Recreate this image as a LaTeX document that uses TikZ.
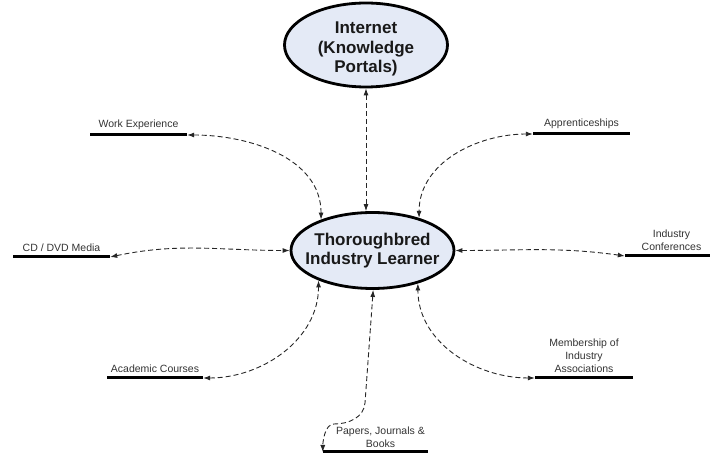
\documentclass[tikz,border=0pt]{standalone}
\usepackage{fontspec}
\setmainfont{Liberation Sans}
\usetikzlibrary{arrows.meta,positioning,shapes.geometric}
\definecolor{hubfill}{RGB}{228,234,246}

\begin{document}
\begin{tikzpicture}[
  x=1pt, y=1pt,
  >={Latex[length=7pt,width=5pt]},
  node distance=2pt,
  hub/.style={
    ellipse,
    draw,
    line width=2.8pt,
    fill=hubfill,
    inner sep=0pt
  },
  hubtext/.style={
    align=center,
    font=\fontsize{17}{19.5}\selectfont\bfseries,
    text=black!90
  },
  bar/.style={
    fill=black,
    inner sep=0pt,
    minimum height=3pt
  },
  caption/.style={
    align=center,
    font=\fontsize{10.5}{13}\selectfont,
    text=black!80,
    inner sep=1pt
  },
  link/.style={<->, dash pattern=on 5pt off 3pt, line width=0.9pt, black!85}
]
\useasboundingbox (0,0) rectangle (710,455);

% Central learner and internet
\node[hub, minimum width=163pt, minimum height=84pt] (net) at (366,410) {};
\node[hubtext, yshift=-4pt] (nettext) at (net) {Internet\\(Knowledge\\Portals)};
\node[hub, minimum width=163pt, minimum height=76pt] (learner) at (372.5,204.5) {};
\node[hubtext] (learnertext) at (learner) {Thoroughbred\\Industry Learner};

% Resource bars
\node[bar, minimum width=97pt] (work) at (138.5,320) {};
\node[bar, minimum width=97pt] (appr) at (581.5,321) {};
\node[bar, minimum width=97pt] (cd) at (61.5,198) {};
\node[bar, minimum width=85pt] (conf) at (667.5,199) {};
\node[bar, minimum width=96pt] (acad) at (155,77) {};
\node[bar, minimum width=98pt] (memb) at (584,77) {};
\node[bar, minimum width=105pt] (papers) at (375.5,3) {};

% Resource captions
\node[caption, above=of work] (workcap) {Work Experience};
\node[caption, above=of appr] (apprcap) {Apprenticeships};
\node[caption, above=of cd] (cdcap) {CD / DVD Media};
\node[caption, above=of conf, xshift=4pt] (confcap) {Industry\\Conferences};
\node[caption, above=of acad] (acadcap) {Academic Courses};
\node[caption, above=of memb] (membcap) {Membership of\\Industry\\Associations};
\node[caption, above=1pt of papers, xshift=5pt] (paperscap) {Papers, Journals \&\\Books};

% Bend points for the papers link
\coordinate (pdrop) at (365,52);
\coordinate (pturn) at (334,31);

% Links
\draw[link] (net.south) -- (net.south |- learner.north);
\draw[link] (work.east) to[out=0,in=90] (learner.149);
\draw[link] (appr.west) to[out=180,in=90] (learner.35);
\draw[link] (cd.east) to[out=12,in=180] (learner.west);
\draw[link] (learner.east) to[out=0,in=172] (conf.west);
\draw[link] (acad.east) to[out=0,in=-90] (learner.209);
\draw[link] (memb.west) to[out=180,in=-90] (learner.324);
\draw[link] (learner.271) -- (pdrop) to[out=-95,in=0] (pturn) to[out=180,in=90,looseness=0.8] (papers.west);

\end{tikzpicture}
\end{document}
